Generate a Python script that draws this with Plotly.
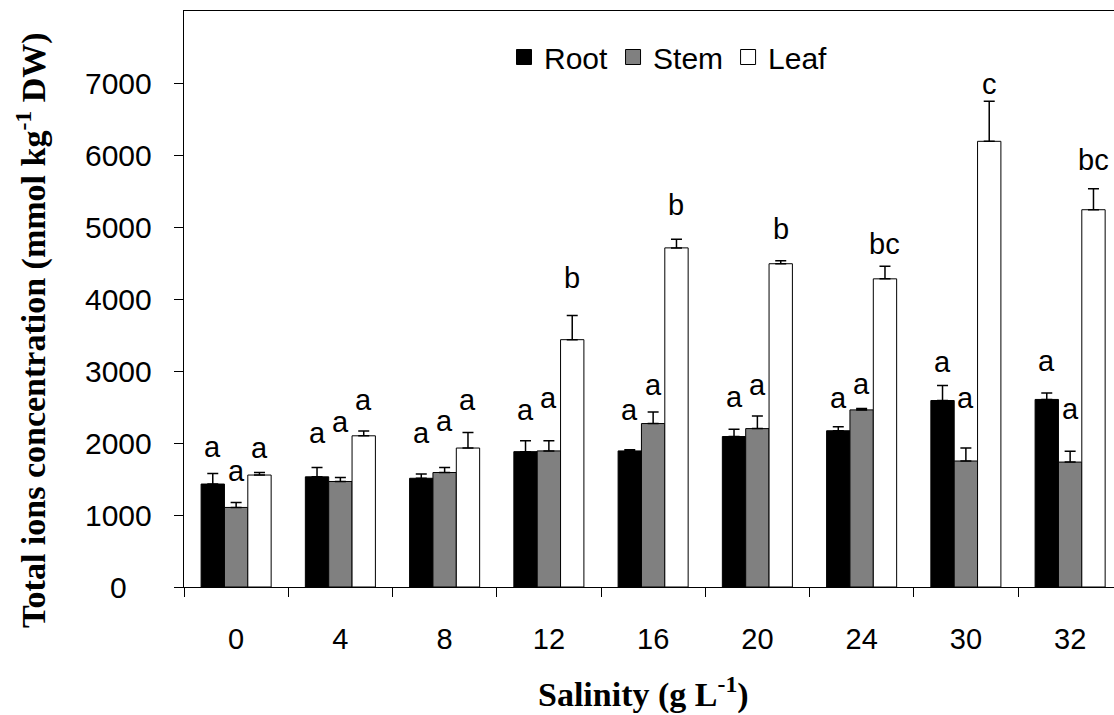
import plotly.graph_objects as go

# ---------------- data ----------------
salinity = ["0", "4", "8", "12", "16", "20", "24", "30", "32"]
root = [1430, 1530, 1510, 1880, 1890, 2090, 2170, 2590, 2605]
root_err = [145, 130, 60, 150, 15, 100, 55, 210, 90]
stem = [1105, 1465, 1590, 1890, 2270, 2200, 2460, 1750, 1735]
stem_err = [70, 55, 70, 140, 160, 175, 20, 180, 150]
leaf = [1555, 2100, 1930, 3435, 4710, 4490, 4280, 6190, 5240]
leaf_err = [37, 65, 215, 335, 120, 42, 175, 555, 290]
root_letters = ["a", "a", "a", "a", "a", "a", "a", "a", "a"]
stem_letters = ["a", "a", "a", "a", "a", "a", "a", "a", "a"]
leaf_letters = ["a", "a", "a", "b", "b", "b", "bc", "c", "bc"]
ytick_vals = [0, 1000, 2000, 3000, 4000, 5000, 6000, 7000]

# ---------------- layout / style ----------------
W, H = 1114, 715
ml, mr, mt, mb = 184, 0, 11, 128
plot_w = W - ml - mr
plot_h = H - mt - mb
cat_px = 104.25
x_hi = -0.5 + plot_w / cat_px
bargap = 0.328
bw = (1 - bargap) / 3

SANS = "Liberation Sans, Arial, sans-serif"
SERIF = "Liberation Serif, Times New Roman, serif"

# label lift above error-bar top (pixels), per series / per group
root_lift = [16, 23, 30, 20, 29, 21, 18, 12, 21]
stem_lift = [20, 45, 35, 32, 16, 20, 13, 39, 31]
leaf_lift = [13, 20, 22, 27, 23, 21, 11, 6, 18]
base_adj = 7

series = [
    ("Root", root, root_err, "#000000", root_letters, root_lift),
    ("Stem", stem, stem_err, "#808080", stem_letters, stem_lift),
    ("Leaf", leaf, leaf_err, "#ffffff", leaf_letters, leaf_lift),
]

fig = go.Figure()
annotations = []
for j, (name, vals, errs, color, letters, lift) in enumerate(series):
    fig.add_trace(go.Bar(
        x=salinity, y=vals, name=name, showlegend=False,
        marker=dict(color=color, line=dict(color="black", width=1)),
        error_y=dict(type="data", array=errs, arrayminus=[0] * len(errs),
                     symmetric=False, color="black", thickness=1.5, width=5.5),
    ))
    for i in range(len(salinity)):
        annotations.append(dict(
            x=i + (j - 1) * bw, y=vals[i] + errs[i], xref="x", yref="y",
            text=letters[i], showarrow=False, yanchor="bottom",
            yshift=lift[i] - base_adj,
            font=dict(family=SANS, size=29, color="black"),
        ))

# legend entries with larger square swatches
for name, _, _, color, _, _ in series:
    fig.add_trace(go.Scatter(
        x=[None], y=[None], mode="markers", name=name,
        marker=dict(symbol="square", size=15, color=color,
                    line=dict(color="black", width=1)),
    ))

# y tick labels (centered, as in the original)
for v in ytick_vals:
    annotations.append(dict(
        x=(118 - ml) / plot_w, xref="paper", y=v, yref="y", text=str(v),
        showarrow=False, xanchor="center", yanchor="middle",
        font=dict(family=SANS, size=30, color="black"),
    ))

# axis titles
annotations.append(dict(
    x=(31 - ml) / plot_w, xref="paper", y=(plot_h + mt - 330) / plot_h, yref="paper",
    text="<b>Total ions concentration (mmol kg<sup>-1</sup> DW)</b>",
    textangle=-90, showarrow=False, xanchor="center", yanchor="middle",
    font=dict(family=SERIF, size=34, color="black"),
))
annotations.append(dict(
    x=(643 - ml) / plot_w, xref="paper", y=(plot_h + mt - 692) / plot_h, yref="paper",
    text="<b>Salinity (g L<sup>-1</sup>)</b>",
    showarrow=False, xanchor="center", yanchor="middle",
    font=dict(family=SERIF, size=34, color="black"),
))

fig.update_layout(
    width=W, height=H,
    margin=dict(l=ml, r=mr, t=mt, b=mb, pad=0),
    paper_bgcolor="white", plot_bgcolor="white",
    barmode="group", bargap=bargap, bargroupgap=0,
    showlegend=True,
    legend=dict(orientation="h", x=(504 - ml) / plot_w, xanchor="left",
                y=(plot_h + mt - 57) / plot_h, yanchor="middle",
                font=dict(family=SANS, size=30, color="black"),
                itemwidth=30, tracegroupgap=0,
                bgcolor="rgba(0,0,0,0)", itemclick=False),
    annotations=annotations,
)
fig.update_xaxes(
    type="category", range=[-0.5, x_hi],
    showline=True, linecolor="black", linewidth=1, mirror=True,
    ticks="outside", tickson="boundaries", ticklen=9, tickcolor="black", tickwidth=1,
    ticklabelstandoff=26,
    tickfont=dict(family=SANS, size=29, color="black"),
    showgrid=False, zeroline=False,
)
fig.update_yaxes(
    range=[0, 8000], tickvals=ytick_vals, showticklabels=False,
    showline=True, linecolor="black", linewidth=1,
    ticks="outside", ticklen=9, tickcolor="black", tickwidth=1,
    showgrid=False, zeroline=False,
)

fig.write_html("out.html")
